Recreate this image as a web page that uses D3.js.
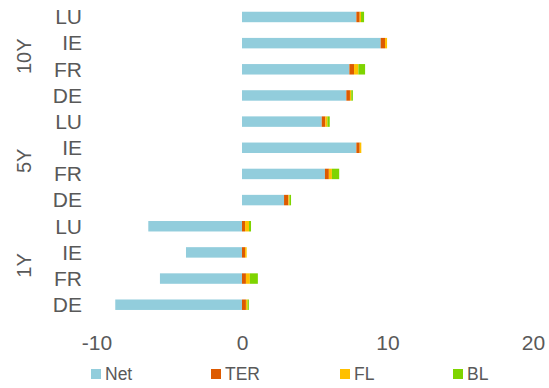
<!DOCTYPE html>
<html>
<head>
<meta charset="utf-8">
<script src="https://cdn.jsdelivr.net/npm/d3@7"></script>
<style>
  body { margin: 0; background: #fff; }
  svg { display: block; font-family: "Liberation Sans", Arial, sans-serif; }
</style>
</head>
<body>
<svg id="chart" width="549" height="388"></svg>
<script>
// Data (top = first)
const groups = ["10Y", "5Y", "1Y"];
const countries = ["LU", "IE", "FR", "DE"];
const series = ["Net", "TER", "FL", "BL"];
const colors = ["#92CDDC", "#DD5A00", "#FFC000", "#7ED400"];
const net = [7.86, 9.53, 7.38, 7.17, 5.48, 7.86, 5.70, 2.89, -6.44, -3.85, -5.64, -8.71];
const ter = [0.23, 0.30, 0.32, 0.25, 0.25, 0.23, 0.27, 0.30, 0.21, 0.21, 0.27, 0.27];
const fl  = [0.09, 0.14, 0.30, 0.09, 0.14, 0.11, 0.21, 0.07, 0.27, 0.11, 0.27, 0.11];
const bl  = [0.21, 0.00, 0.46, 0.11, 0.16, 0.00, 0.50, 0.11, 0.14, 0.00, 0.55, 0.09];
const xTicks = [-10, 0, 10, 20];

const rows = [];
groups.forEach((g, gi) => countries.forEach((c, ci) => {
  const i = gi * countries.length + ci;
  rows.push({ key: g + "-" + c, group: g, country: c, Net: net[i], TER: ter[i], FL: fl[i], BL: bl[i] });
}));

const svg = d3.select("#chart");
const x = d3.scaleLinear().domain([-10, 20]).range([96.5, 533]);
const y = d3.scaleBand().domain(rows.map(r => r.key)).range([3.9, 317.8]).paddingInner(0.6).paddingOuter(0.3);
const color = d3.scaleOrdinal().domain(series).range(colors);

const stacked = d3.stack().keys(series).offset(d3.stackOffsetDiverging)(rows);

svg.append("g").selectAll("g").data(stacked).join("g")
  .attr("fill", d => color(d.key))
  .selectAll("rect").data(d => d).join("rect")
  .attr("x", d => x(Math.min(d[0], d[1])))
  .attr("width", d => Math.abs(x(d[1]) - x(d[0])))
  .attr("y", d => y(d.data.key))
  .attr("height", y.bandwidth());

const textColor = "#595959";

// Country labels
svg.append("g").selectAll("text").data(rows).join("text")
  .attr("x", 82)
  .attr("y", d => y(d.key) + y.bandwidth() / 2)
  .attr("dy", "0.35em")
  .attr("text-anchor", "end")
  .attr("font-size", 21)
  .attr("fill", textColor)
  .text(d => d.country);

// Group labels
svg.append("g").selectAll("text").data(groups).join("text")
  .attr("transform", g => {
    const keys = rows.filter(r => r.group === g).map(r => r.key);
    const cy = (y(keys[0]) + y(keys[keys.length - 1]) + y.bandwidth()) / 2;
    return `translate(24,${cy}) rotate(-90)`;
  })
  .attr("dy", "0.35em")
  .attr("text-anchor", "middle")
  .attr("font-size", 20)
  .attr("fill", textColor)
  .text(g => g);

// X axis
const xAxis = svg.append("g").attr("transform", "translate(0,327)")
  .call(d3.axisBottom(x).tickValues(xTicks).tickSize(0).tickPadding(0).tickFormat(d => d < 0 ? "-" + Math.abs(d) : d));
xAxis.select(".domain").remove();
xAxis.selectAll("text").attr("font-size", 21).attr("fill", textColor)
  .attr("font-family", "Liberation Sans, Arial, sans-serif").attr("dy", "0.71em").attr("y", 8);

// Legend
const legendX = [91, 211, 340, 453];
const lg = svg.append("g").selectAll("g").data(series).join("g")
  .attr("transform", (d, i) => `translate(${legendX[i]},369)`);
lg.append("rect").attr("width", 10).attr("height", 10).attr("fill", d => color(d));
lg.append("text").attr("x", 14).attr("y", 5).attr("dy", "0.35em")
  .attr("font-size", 17.5).attr("fill", textColor).text(d => d);
</script>
</body>
</html>
